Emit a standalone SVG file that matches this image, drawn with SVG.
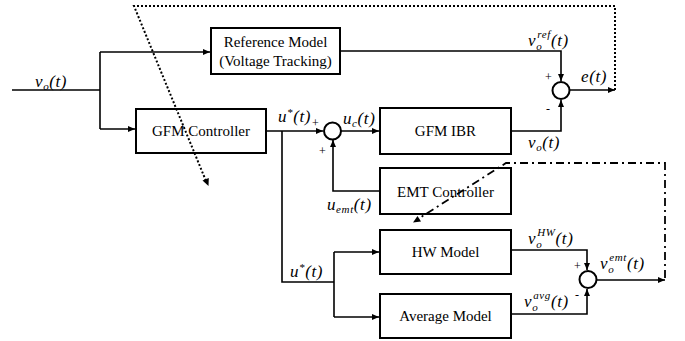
<svg xmlns="http://www.w3.org/2000/svg" width="685" height="341" viewBox="0 0 685 341">
  <style>
    .box { fill: #fff; stroke: #000; stroke-width: 2; }
    .sum { fill: #fff; stroke: #000; stroke-width: 2; }
    .wire { fill: none; stroke: #000; stroke-width: 1.6; }
    .dot { fill: none; stroke: #000; stroke-width: 2; stroke-dasharray: 2 2; }
    .dashdot { fill: none; stroke: #000; stroke-width: 1.8; stroke-dasharray: 8 4 2 4; }
    .lbl { font-family: 'Liberation Serif', 'DejaVu Serif', serif; font-size: 15px; fill: #000; text-anchor: middle; }
    .math { font-family: 'Liberation Serif', 'DejaVu Serif', serif; font-style: italic; font-size: 17px; letter-spacing: 0.6px; fill: #000; }
    .sgn { font-family: 'Liberation Serif', 'DejaVu Serif', serif; font-size: 12px; fill: #000; }
  </style>
  <defs>
    <marker id="arr" markerWidth="8" markerHeight="8" refX="7" refY="4" orient="auto" markerUnits="userSpaceOnUse">
      <path d="M0,1 L7,4 L0,7 Z" fill="#000"/>
    </marker>
  </defs>

  <!-- blocks -->
  <g id="reference-model">
    <rect class="box" x="211" y="28" width="129" height="46"/>
    <text class="lbl" x="275.5" y="47">Reference Model</text>
    <text class="lbl" x="275.5" y="66">(Voltage Tracking)</text>
  </g>
  <g id="gfm-controller">
    <rect class="box" x="136" y="109" width="130" height="44"/>
    <text class="lbl" x="201" y="136">GFM Controller</text>
  </g>
  <g id="gfm-ibr">
    <rect class="box" x="380" y="108" width="131" height="46"/>
    <text class="lbl" x="445.5" y="136">GFM IBR</text>
  </g>
  <g id="emt-controller">
    <rect class="box" x="380" y="168" width="131" height="46"/>
    <text class="lbl" x="445.5" y="197">EMT Controller</text>
  </g>
  <g id="hw-model">
    <rect class="box" x="380" y="230" width="131" height="44"/>
    <text class="lbl" x="445.5" y="257">HW Model</text>
  </g>
  <g id="average-model">
    <rect class="box" x="380" y="294" width="131" height="44"/>
    <text class="lbl" x="445.5" y="321">Average Model</text>
  </g>

  <!-- summing junctions -->
  <g id="sum-input">
    <circle class="sum" cx="332.5" cy="131" r="8.5"/>
  </g>
  <g id="sum-error">
    <circle class="sum" cx="561" cy="90.5" r="8.5"/>
  </g>
  <g id="sum-emt">
    <circle class="sum" cx="588" cy="279.5" r="8.5"/>
  </g>

  <!-- connectors -->
  <g id="connectors">
    <path class="wire" d="M12,90 H100"/>
    <path class="wire" d="M100,52 V129"/>
    <path class="wire" d="M100,52 H210" marker-end="url(#arr)"/>
    <path class="wire" d="M100,129 H135" marker-end="url(#arr)"/>
    <path class="wire" d="M266,131 H323" marker-end="url(#arr)"/>
    <path class="wire" d="M341,131 H379" marker-end="url(#arr)"/>
    <path class="wire" d="M380,191 H333 V140" marker-end="url(#arr)"/>
    <path class="wire" d="M282,131 V282 H334"/>
    <path class="wire" d="M334,252 V317"/>
    <path class="wire" d="M334,252 H379" marker-end="url(#arr)"/>
    <path class="wire" d="M334,317 H379" marker-end="url(#arr)"/>
    <path class="wire" d="M340,51 H561 V81" marker-end="url(#arr)"/>
    <path class="wire" d="M511,131 H561 V100" marker-end="url(#arr)"/>
    <path class="wire" d="M569.5,90 H615" marker-end="url(#arr)"/>
    <path class="wire" d="M511,250 H587 V270" marker-end="url(#arr)"/>
    <path class="wire" d="M511,314 H587 V289" marker-end="url(#arr)"/>
    <path class="wire" d="M596.5,280 H665" marker-end="url(#arr)"/>
    <!-- error feedback (dotted) -->
    <path class="dot" d="M615,90 V6 H134 L206,181"/>
    <path d="M202.5,180.5 L208.5,186 L208.8,178 Z" fill="#000"/>
    <!-- EMT output feedback (dash-dot) -->
    <path class="dashdot" d="M665,278 V163 H506 L418,219"/>
    <path d="M413,222.5 L421,221.5 L417.5,216 Z" fill="#000"/>
  </g>

  <!-- signal labels -->
  <g id="labels">
    <text class="math" x="35" y="87">v<tspan font-size="11" dy="3">o</tspan><tspan dy="-3">(t)</tspan></text>
    <text class="math" x="278" y="122">u<tspan font-size="11" dy="-6">*</tspan><tspan dy="6">(t)</tspan></text>
    <text class="sgn" x="312" y="127">+</text>
    <text class="math" x="343" y="124">u<tspan font-size="11" dy="3">c</tspan><tspan dy="-3">(t)</tspan></text>
    <text class="sgn" x="319" y="155">+</text>
    <text class="math" x="327" y="210">u<tspan font-size="11" dy="3">emt</tspan><tspan dy="-3">(t)</tspan></text>
    <text class="math" x="528" y="148">v<tspan font-size="11" dy="3">o</tspan><tspan dy="-3">(t)</tspan></text>
    <text class="math" x="528" y="46">v<tspan font-size="11" dy="4">o</tspan><tspan font-size="11" dx="-5" dy="-12">ref</tspan><tspan dy="8">(t)</tspan></text>
    <text class="sgn" x="545" y="81">+</text>
    <text class="sgn" x="546" y="113">-</text>
    <text class="math" x="581" y="82">e(t)</text>
    <text class="math" x="290" y="277">u<tspan font-size="11" dy="-6">*</tspan><tspan dy="6">(t)</tspan></text>
    <text class="math" x="528" y="244">v<tspan font-size="11" dy="4">o</tspan><tspan font-size="11" dx="-5" dy="-12">HW</tspan><tspan dy="8">(t)</tspan></text>
    <text class="math" x="524" y="307">v<tspan font-size="11" dy="4">o</tspan><tspan font-size="11" dx="-5" dy="-12">avg</tspan><tspan dy="8">(t)</tspan></text>
    <text class="sgn" x="575" y="299">-</text>
    <text class="sgn" x="574" y="270">+</text>
    <text class="math" x="600" y="269">v<tspan font-size="11" dy="4">o</tspan><tspan font-size="11" dx="-5" dy="-12">emt</tspan><tspan dy="8">(t)</tspan></text>
  </g>
</svg>
